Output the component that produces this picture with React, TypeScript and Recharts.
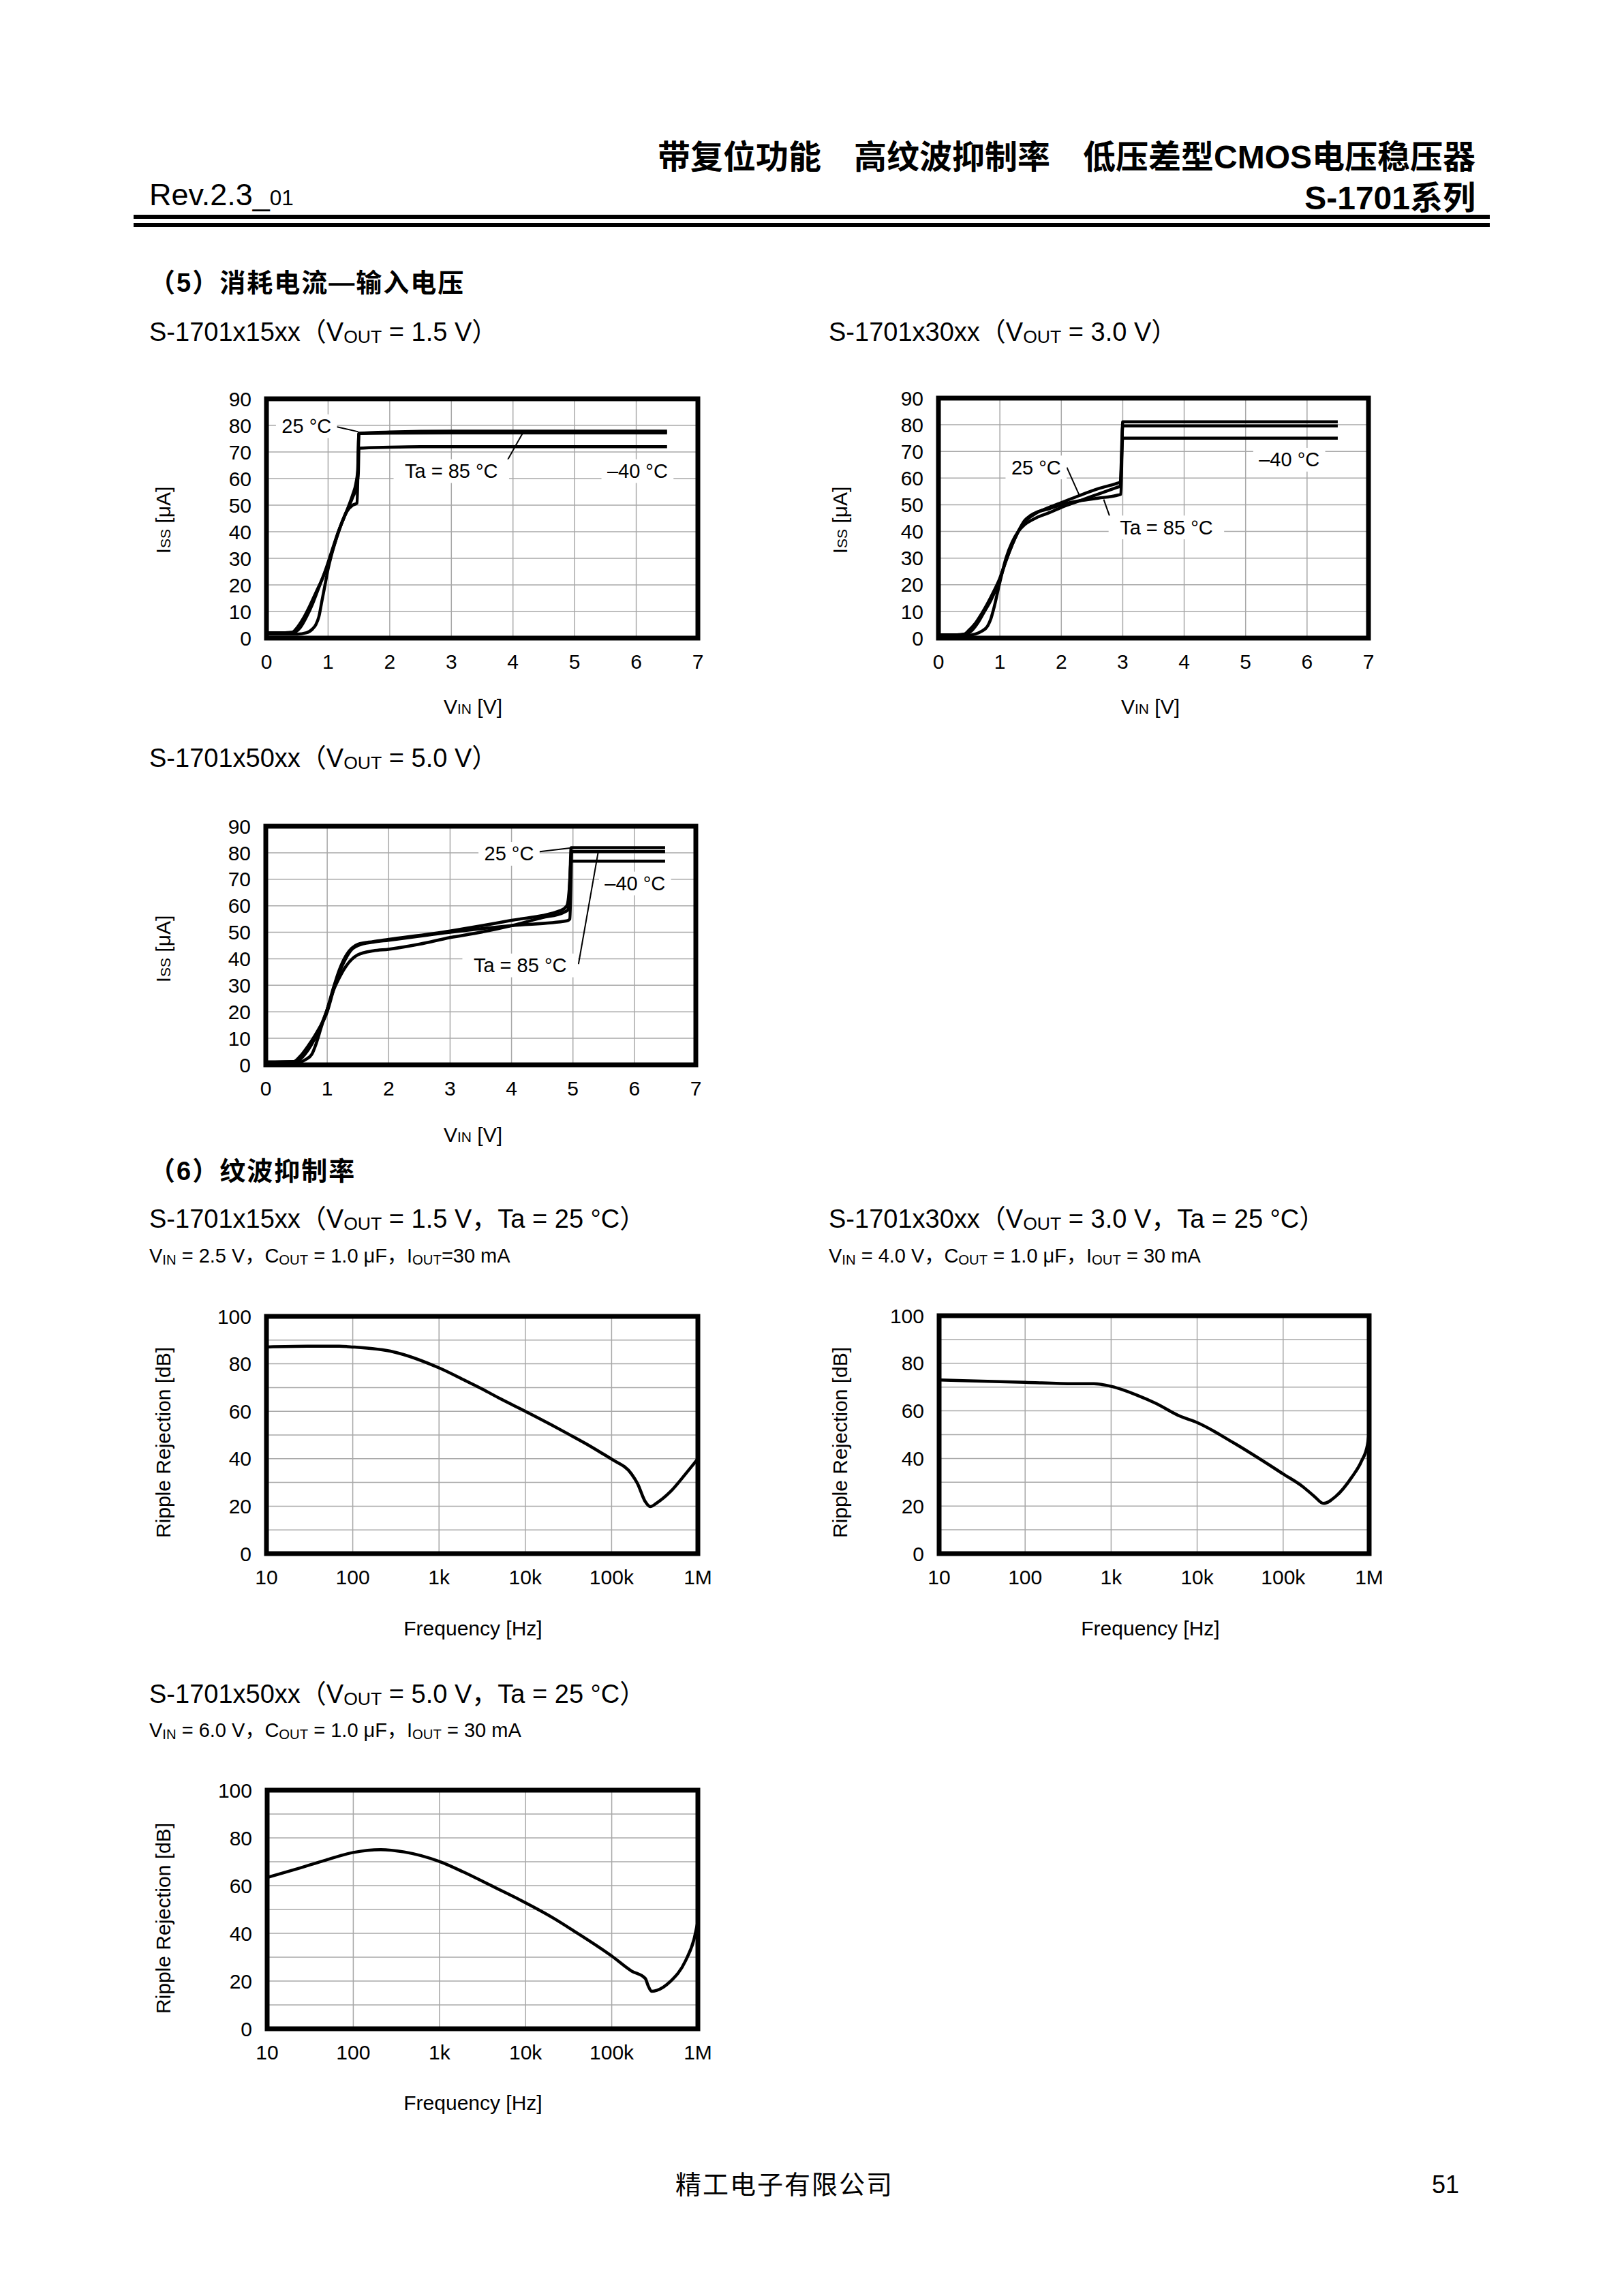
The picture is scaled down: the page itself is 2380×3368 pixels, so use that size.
import React from 'react';
import {
  LineChart,
  Line,
  XAxis,
  YAxis,
  CartesianGrid,
  ReferenceArea,
  ReferenceDot,
  ReferenceLine,
} from 'recharts';

// ---------------- DATA ----------------
const vinTicks = [0, 1, 2, 3, 4, 5, 6, 7];
const issTicks = [0, 10, 20, 30, 40, 50, 60, 70, 80, 90];
const freqTicks = [10, 100, 1000, 10000, 100000, 1000000];
const freqTickLabels = ['10', '100', '1k', '10k', '100k', '1M'];
const rrTicks = [0, 10, 20, 30, 40, 50, 60, 70, 80, 90, 100];

// S-1701x15xx  Iss vs Vin  (x: V, y: uA)
const iss15_25 = [
  { x: 0, y: 2 }, { x: 0.3, y: 2 }, { x: 0.45, y: 2.2 }, { x: 0.55, y: 4 }, { x: 0.65, y: 8 },
  { x: 0.75, y: 13 }, { x: 0.85, y: 19 }, { x: 0.95, y: 25 }, { x: 1.05, y: 32 }, { x: 1.15, y: 39 },
  { x: 1.25, y: 45 }, { x: 1.33, y: 49.5 }, { x: 1.4, y: 54 }, { x: 1.45, y: 58 }, { x: 1.48, y: 63 },
  { x: 1.5, y: 77 }, { x: 2, y: 77.5 }, { x: 3, y: 77.8 }, { x: 4, y: 77.8 }, { x: 5, y: 77.8 },
  { x: 6, y: 77.8 }, { x: 6.5, y: 77.8 },
];
const iss15_85 = [
  { x: 0, y: 2 }, { x: 0.3, y: 2 }, { x: 0.42, y: 2.2 }, { x: 0.5, y: 4 }, { x: 0.6, y: 7.5 },
  { x: 0.7, y: 12 }, { x: 0.8, y: 17 }, { x: 0.9, y: 22 }, { x: 1.0, y: 28 }, { x: 1.1, y: 35 },
  { x: 1.2, y: 42 }, { x: 1.3, y: 47.5 }, { x: 1.4, y: 50 }, { x: 1.47, y: 50.8 }, { x: 1.5, y: 77 },
  { x: 2, y: 77.1 }, { x: 3, y: 77.2 }, { x: 4, y: 77.2 }, { x: 5, y: 77.2 }, { x: 6, y: 77.2 },
  { x: 6.5, y: 77.2 },
];
const iss15_m40 = [
  { x: 0, y: 1.5 }, { x: 0.5, y: 1.5 }, { x: 0.65, y: 2 }, { x: 0.75, y: 3.5 }, { x: 0.8, y: 5 },
  { x: 0.85, y: 8 }, { x: 0.9, y: 14 }, { x: 0.95, y: 20 }, { x: 1.0, y: 26 }, { x: 1.1, y: 35 },
  { x: 1.2, y: 42 }, { x: 1.3, y: 47.5 }, { x: 1.4, y: 53 }, { x: 1.46, y: 57 }, { x: 1.49, y: 62 },
  { x: 1.5, y: 71.4 }, { x: 2, y: 71.8 }, { x: 2.5, y: 72 }, { x: 3, y: 72 }, { x: 4, y: 72 },
  { x: 5, y: 72 }, { x: 6, y: 72 }, { x: 6.5, y: 72 },
];

// S-1701x30xx  Iss vs Vin
const iss30_25 = [
  { x: 0, y: 1.2 }, { x: 0.3, y: 1.2 }, { x: 0.45, y: 1.5 }, { x: 0.55, y: 3 }, { x: 0.65, y: 6 },
  { x: 0.75, y: 10 }, { x: 0.85, y: 14 }, { x: 1.0, y: 22 }, { x: 1.1, y: 29 }, { x: 1.2, y: 35 },
  { x: 1.3, y: 40 }, { x: 1.4, y: 43.5 }, { x: 1.5, y: 45.5 }, { x: 1.6, y: 47 }, { x: 1.8, y: 49 },
  { x: 2.0, y: 50.8 }, { x: 2.3, y: 53.5 }, { x: 2.6, y: 56 }, { x: 2.9, y: 58 }, { x: 2.96, y: 58.5 },
  { x: 3.0, y: 79.6 }, { x: 3.5, y: 79.6 }, { x: 4, y: 79.6 }, { x: 5, y: 79.6 }, { x: 6, y: 79.6 },
  { x: 6.5, y: 79.6 },
];
const iss30_85 = [
  { x: 0, y: 1.2 }, { x: 0.3, y: 1.2 }, { x: 0.42, y: 1.5 }, { x: 0.5, y: 3 }, { x: 0.6, y: 5.5 },
  { x: 0.7, y: 9 }, { x: 0.8, y: 13 }, { x: 0.9, y: 17.5 }, { x: 1.0, y: 22.5 }, { x: 1.1, y: 29 },
  { x: 1.2, y: 35 }, { x: 1.3, y: 40 }, { x: 1.4, y: 44 }, { x: 1.5, y: 46 }, { x: 1.6, y: 47.2 },
  { x: 1.8, y: 48.5 }, { x: 2.0, y: 50 }, { x: 2.3, y: 51.5 }, { x: 2.6, y: 52.5 }, { x: 2.9, y: 53.5 },
  { x: 2.97, y: 54 }, { x: 3.0, y: 81.1 }, { x: 3.5, y: 81.1 }, { x: 4, y: 81.1 }, { x: 5, y: 81.1 },
  { x: 6, y: 81.1 }, { x: 6.5, y: 81.1 },
];
const iss30_m40 = [
  { x: 0, y: 1 }, { x: 0.45, y: 1 }, { x: 0.6, y: 1.5 }, { x: 0.7, y: 2.5 }, { x: 0.8, y: 4.5 },
  { x: 0.85, y: 7 }, { x: 0.9, y: 11 }, { x: 1.0, y: 21 }, { x: 1.1, y: 30 }, { x: 1.2, y: 36 },
  { x: 1.3, y: 40 }, { x: 1.4, y: 42.5 }, { x: 1.5, y: 44 }, { x: 1.6, y: 45.2 }, { x: 1.8, y: 47 },
  { x: 2.0, y: 49 }, { x: 2.3, y: 51.5 }, { x: 2.6, y: 54 }, { x: 2.9, y: 56.5 }, { x: 2.96, y: 57 },
  { x: 3.0, y: 75 }, { x: 3.5, y: 75 }, { x: 4, y: 75 }, { x: 5, y: 75 }, { x: 6, y: 75 },
  { x: 6.5, y: 75 },
];

// S-1701x50xx  Iss vs Vin
const iss50_25 = [
  { x: 0, y: 1 }, { x: 0.5, y: 1.2 }, { x: 0.6, y: 3 }, { x: 0.7, y: 6 }, { x: 0.8, y: 10 },
  { x: 0.9, y: 15 }, { x: 1.0, y: 21 }, { x: 1.1, y: 29 }, { x: 1.2, y: 36 }, { x: 1.3, y: 41 },
  { x: 1.4, y: 44 }, { x: 1.5, y: 45.5 }, { x: 1.75, y: 46.5 }, { x: 2, y: 47.3 }, { x: 3, y: 50.5 },
  { x: 4, y: 54.5 }, { x: 4.8, y: 58.2 }, { x: 4.9, y: 60 }, { x: 4.95, y: 70 }, { x: 4.97, y: 81.9 },
  { x: 5.5, y: 81.9 }, { x: 6, y: 81.9 }, { x: 6.5, y: 81.9 },
];
const iss50_85 = [
  { x: 0, y: 1 }, { x: 0.45, y: 1.2 }, { x: 0.55, y: 3 }, { x: 0.7, y: 7.5 }, { x: 0.85, y: 13 },
  { x: 1.0, y: 20 }, { x: 1.1, y: 28 }, { x: 1.2, y: 35 }, { x: 1.3, y: 40 }, { x: 1.4, y: 43.5 },
  { x: 1.5, y: 45 }, { x: 1.75, y: 46.3 }, { x: 2, y: 47 }, { x: 3, y: 50 }, { x: 4, y: 52.5 },
  { x: 4.9, y: 54.3 }, { x: 4.95, y: 55 }, { x: 4.98, y: 80.4 }, { x: 5.5, y: 80.4 }, { x: 6, y: 80.4 },
  { x: 6.5, y: 80.4 },
];
const iss50_m40 = [
  { x: 0, y: 1 }, { x: 0.55, y: 1 }, { x: 0.65, y: 2 }, { x: 0.75, y: 4 }, { x: 0.82, y: 8 },
  { x: 0.9, y: 14 }, { x: 1.0, y: 21 }, { x: 1.1, y: 28 }, { x: 1.2, y: 33 }, { x: 1.3, y: 37 },
  { x: 1.4, y: 39.8 }, { x: 1.5, y: 41.5 }, { x: 1.75, y: 43 }, { x: 2, y: 43.6 }, { x: 2.5, y: 45.5 },
  { x: 3, y: 48 }, { x: 3.5, y: 50 }, { x: 4, y: 52.5 }, { x: 4.5, y: 55.5 }, { x: 4.85, y: 57.5 },
  { x: 4.92, y: 58.5 }, { x: 4.97, y: 76.8 }, { x: 5.5, y: 76.8 }, { x: 6, y: 76.8 }, { x: 6.5, y: 76.8 },
];

// Ripple rejection (x: Hz, y: dB)
const rr15 = [
  { x: 10, y: 87.1 }, { x: 30, y: 87.4 }, { x: 70, y: 87.4 }, { x: 100, y: 87.1 }, { x: 300, y: 85 },
  { x: 1000, y: 78.3 }, { x: 2000, y: 73 }, { x: 3160, y: 69.4 }, { x: 5000, y: 65.5 },
  { x: 10000, y: 60 }, { x: 20000, y: 54.3 }, { x: 31600, y: 50.4 }, { x: 50000, y: 46.4 },
  { x: 75000, y: 42.6 }, { x: 100000, y: 39.8 }, { x: 170000, y: 33.6 }, { x: 200000, y: 29.5 },
  { x: 245000, y: 22 }, { x: 280000, y: 19.8 }, { x: 335000, y: 21.4 }, { x: 480000, y: 26.1 },
  { x: 720000, y: 33.6 }, { x: 1000000, y: 40 },
];
const rr30 = [
  { x: 10, y: 73 }, { x: 100, y: 72 }, { x: 370, y: 71.4 }, { x: 630, y: 71.4 }, { x: 1000, y: 70.3 },
  { x: 2000, y: 66.6 }, { x: 3300, y: 63.2 }, { x: 6300, y: 57.8 }, { x: 10000, y: 55.1 },
  { x: 27000, y: 46.4 }, { x: 100000, y: 33.5 }, { x: 170000, y: 28.1 }, { x: 230000, y: 24.1 },
  { x: 294000, y: 21.1 }, { x: 410000, y: 24.1 }, { x: 630000, y: 32.2 }, { x: 815000, y: 38.9 },
  { x: 955000, y: 45.7 }, { x: 1000000, y: 51 },
];
const rr50 = [
  { x: 10, y: 63.4 }, { x: 23, y: 67.2 }, { x: 48, y: 70.7 }, { x: 100, y: 73.9 }, { x: 208, y: 75.1 },
  { x: 390, y: 74.1 }, { x: 1000, y: 70.1 }, { x: 1900, y: 65.7 }, { x: 4300, y: 59.4 },
  { x: 10000, y: 52.8 }, { x: 21000, y: 46.4 }, { x: 35000, y: 41.4 }, { x: 100000, y: 30.5 },
  { x: 170000, y: 24.2 }, { x: 245000, y: 21.1 }, { x: 265000, y: 18 }, { x: 290000, y: 15.7 },
  { x: 334000, y: 16.1 }, { x: 478000, y: 19.8 }, { x: 722000, y: 28.6 }, { x: 900000, y: 37.4 },
  { x: 1000000, y: 45 },
];

// Annotations (data coordinates)
const notes15 = [
  { x: 0.65, y: 79.7, text: '25 °C' },
  { x: 3.0, y: 62.8, text: 'Ta = 85 °C' },
  { x: 6.02, y: 62.8, text: '–40 °C' },
];
const leaders15 = [
  [{ x: 1.1, y: 79.7 }, { x: 1.49, y: 77.6 }],
  [{ x: 3.83, y: 63.6 }, { x: 4.16, y: 77.2 }],
];
const notes30 = [
  { x: 1.59, y: 64, text: '25 °C' },
  { x: 3.71, y: 41.5, text: 'Ta = 85 °C' },
  { x: 5.71, y: 66.9, text: '–40 °C' },
];
const leaders30 = [
  [{ x: 2.09, y: 64 }, { x: 2.3, y: 53.2 }],
  [{ x: 2.83, y: 42.9 }, { x: 2.69, y: 52 }],
];
const notes50 = [
  { x: 3.96, y: 79.6, text: '25 °C' },
  { x: 6.01, y: 68.4, text: '–40 °C' },
  { x: 4.14, y: 37.5, text: 'Ta = 85 °C' },
];
const leaders50 = [
  [{ x: 4.39, y: 80.2 }, { x: 5.0, y: 81.9 }],
  [{ x: 5.09, y: 38 }, { x: 5.41, y: 80.2 }],
];

// ---------------- STYLE ----------------
const FONT = "'Liberation Sans', Arial, 'Noto Sans CJK SC', sans-serif";
const tickStyle = { fill: '#000', fontSize: 30, fontFamily: FONT };
const GRID = '#a8a8a8';
const YW = 100;
const XH = 70;
const MT = 30;
const MR = 50;

type Plot = { l: number; r: number; t: number; b: number };

const makeLabel = (text: string) => (props: any) => {
  const vb = props.viewBox || {};
  const cx = (vb.x || 0) + (vb.width || 0) / 2;
  const cy = (vb.y || 0) + (vb.height || 0) / 2;
  const fs = 29;
  const w = text.length * fs * 0.55 + 10;
  return (
    <g>
      <rect x={cx - w / 2} y={cy - fs * 0.6} width={w} height={fs * 1.2} fill="#fff" />
      <text
        x={cx}
        y={cy}
        textAnchor="middle"
        dominantBaseline="central"
        fontSize={fs}
        fontFamily={FONT}
        fill="#000"
      >
        {text}
      </text>
    </g>
  );
};

function IssChart({
  plot,
  series,
  notes,
  leaders,
}: {
  plot: Plot;
  series: { x: number; y: number }[][];
  notes: { x: number; y: number; text: string }[];
  leaders: { x: number; y: number }[][];
}) {
  const w = plot.r - plot.l + YW + MR;
  const h = plot.b - plot.t + MT + XH;
  return (
    <div style={{ position: 'absolute', left: plot.l - YW, top: plot.t - MT }}>
      <LineChart width={w} height={h} margin={{ top: MT, right: MR, bottom: 0, left: 0 }}>
        <CartesianGrid stroke={GRID} strokeWidth={1.5} />
        <XAxis
          dataKey="x"
          type="number"
          domain={[0, 7]}
          ticks={vinTicks}
          interval={0}
          height={XH}
          tickLine={false}
          axisLine={false}
          tickSize={8}
          tickMargin={16}
          tick={tickStyle}
          allowDataOverflow
        />
        <YAxis
          type="number"
          domain={[0, 90]}
          ticks={issTicks}
          interval={0}
          width={YW}
          tickLine={false}
          axisLine={false}
          tickSize={8}
          tickMargin={14}
          tick={tickStyle}
          allowDataOverflow
        />
        {notes.map((n, i) => (
          <ReferenceDot
            key={'n' + i}
            x={n.x}
            y={n.y}
            r={0}
            fill="none"
            stroke="none"
            label={makeLabel(n.text)}
          />
        ))}
        {leaders.map((seg, i) => (
          <ReferenceLine key={'l' + i} segment={seg as any} stroke="#000" strokeWidth={2} />
        ))}
        {series.map((s, i) => (
          <Line
            key={'s' + i}
            data={s}
            dataKey="y"
            type="monotone"
            stroke="#000"
            strokeWidth={4.5}
            dot={false}
            activeDot={false}
            isAnimationActive={false}
          />
        ))}
        <ReferenceArea x1={0} x2={7} y1={0} y2={90} fill="none" stroke="#000" strokeWidth={7} />
      </LineChart>
    </div>
  );
}

function RippleChart({ plot, data }: { plot: Plot; data: { x: number; y: number }[] }) {
  const w = plot.r - plot.l + YW + MR;
  const h = plot.b - plot.t + MT + XH;
  return (
    <div style={{ position: 'absolute', left: plot.l - YW, top: plot.t - MT }}>
      <LineChart width={w} height={h} margin={{ top: MT, right: MR, bottom: 0, left: 0 }}>
        <CartesianGrid stroke={GRID} strokeWidth={1.5} />
        <XAxis
          dataKey="x"
          type="number"
          scale="log"
          domain={[10, 1000000]}
          ticks={freqTicks}
          interval={0}
          height={XH}
          tickLine={false}
          axisLine={false}
          tickSize={8}
          tickMargin={16}
          tick={tickStyle}
          tickFormatter={(v: number) => freqTickLabels[freqTicks.indexOf(v)] ?? String(v)}
          allowDataOverflow
        />
        <YAxis
          type="number"
          domain={[0, 100]}
          ticks={rrTicks}
          interval={0}
          width={YW}
          tickLine={false}
          axisLine={false}
          tickSize={8}
          tickMargin={14}
          tick={tickStyle}
          tickFormatter={(v: number) => (v % 20 === 0 ? String(v) : '')}
          allowDataOverflow
        />
        <Line
          data={data}
          dataKey="y"
          type="monotone"
          stroke="#000"
          strokeWidth={4.5}
          dot={false}
          activeDot={false}
          isAnimationActive={false}
        />
        <ReferenceArea x1={10} x2={1000000} y1={0} y2={100} fill="none" stroke="#000" strokeWidth={7} />
      </LineChart>
    </div>
  );
}

// ---------------- TEXT HELPERS ----------------
function T({
  x,
  y,
  size,
  bold,
  right,
  center,
  rotate,
  spacing,
  children,
}: {
  x: number;
  y: number;
  size: number;
  bold?: boolean;
  right?: boolean;
  center?: boolean;
  rotate?: boolean;
  spacing?: number;
  children: React.ReactNode;
}) {
  const style: React.CSSProperties = {
    position: 'absolute',
    top: y,
    fontSize: size,
    lineHeight: 1,
    fontFamily: FONT,
    fontWeight: bold ? 700 : 400,
    whiteSpace: 'nowrap',
    color: '#000',
    letterSpacing: spacing ?? 0,
  };
  if (rotate) {
    style.left = x;
    style.transform = 'translate(-50%, -50%) rotate(-90deg)';
  } else if (center) {
    style.left = x;
    style.transform = 'translate(-50%, -50%)';
  } else if (right) {
    style.right = 2380 - x;
    style.transform = 'translateY(-50%)';
  } else {
    style.left = x;
    style.transform = 'translateY(-50%)';
  }
  return <div style={style}>{children}</div>;
}

const Sub = ({ children }: { children: React.ReactNode }) => (
  <span style={{ fontSize: '0.7em', verticalAlign: '-0.12em' }}>{children}</span>
);
const Small = ({ children }: { children: React.ReactNode }) => (
  <span style={{ fontSize: '0.7em' }}>{children}</span>
);

const P1: Plot = { l: 391, r: 1024, t: 585, b: 936 };
const P2: Plot = { l: 1377, r: 2008, t: 584, b: 936 };
const P3: Plot = { l: 390, r: 1021, t: 1212, b: 1562 };
const P4: Plot = { l: 391, r: 1024, t: 1931, b: 2279 };
const P5: Plot = { l: 1378, r: 2009, t: 1930, b: 2279 };
const P6: Plot = { l: 392, r: 1024, t: 2626, b: 2976 };

export default function App() {
  return (
    <div
      style={{
        position: 'absolute',
        left: 0,
        top: 0,
        width: 2380,
        height: 3368,
        background: '#fff',
        overflow: 'hidden',
      }}
    >
      {/* Header */}
      <T x={2165} y={231} size={48} bold right>
        带复位功能　高纹波抑制率　低压差型CMOS电压稳压器
      </T>
      <T x={219} y={285} size={45}>
        Rev.2.3_<Small>01</Small>
      </T>
      <T x={2165} y={291} size={48} bold right>
        S-1701系列
      </T>
      <div style={{ position: 'absolute', left: 196, top: 315, width: 1990, height: 6, background: '#000' }} />
      <div style={{ position: 'absolute', left: 196, top: 327, width: 1990, height: 6, background: '#000' }} />

      {/* Section 5 */}
      <T x={219} y={415} size={38} bold spacing={2}>
        （5）消耗电流—输入电压
      </T>
      <T x={219} y={488} size={38}>
        S-1701x15xx（V<Sub>OUT</Sub> = 1.5 V）
      </T>
      <T x={1216} y={488} size={38}>
        S-1701x30xx（V<Sub>OUT</Sub> = 3.0 V）
      </T>
      <T x={219} y={1113} size={38}>
        S-1701x50xx（V<Sub>OUT</Sub> = 5.0 V）
      </T>

      <IssChart plot={P1} series={[iss15_m40, iss15_85, iss15_25]} notes={notes15} leaders={leaders15} />
      <IssChart plot={P2} series={[iss30_m40, iss30_85, iss30_25]} notes={notes30} leaders={leaders30} />
      <IssChart plot={P3} series={[iss50_m40, iss50_85, iss50_25]} notes={notes50} leaders={leaders50} />

      <T x={240} y={763} size={30} rotate>
        I<Small>SS</Small> [μA]
      </T>
      <T x={1233} y={763} size={30} rotate>
        I<Small>SS</Small> [μA]
      </T>
      <T x={240} y={1392} size={30} rotate>
        I<Small>SS</Small> [μA]
      </T>
      <T x={694} y={1037} size={30} center>
        V<Small>IN</Small> [V]
      </T>
      <T x={1688} y={1037} size={30} center>
        V<Small>IN</Small> [V]
      </T>
      <T x={694} y={1665} size={30} center>
        V<Small>IN</Small> [V]
      </T>

      {/* Section 6 */}
      <T x={219} y={1718} size={38} bold spacing={2}>
        （6）纹波抑制率
      </T>
      <T x={219} y={1789} size={38}>
        S-1701x15xx（V<Sub>OUT</Sub> = 1.5 V，Ta = 25 °C）
      </T>
      <T x={219} y={1843} size={29}>
        V<Sub>IN</Sub> = 2.5 V，C<Sub>OUT</Sub> = 1.0 μF，I<Sub>OUT</Sub>=30 mA
      </T>
      <T x={1216} y={1789} size={38}>
        S-1701x30xx（V<Sub>OUT</Sub> = 3.0 V，Ta = 25 °C）
      </T>
      <T x={1216} y={1843} size={29}>
        V<Sub>IN</Sub> = 4.0 V，C<Sub>OUT</Sub> = 1.0 μF，I<Sub>OUT</Sub> = 30 mA
      </T>
      <T x={219} y={2486} size={38}>
        S-1701x50xx（V<Sub>OUT</Sub> = 5.0 V，Ta = 25 °C）
      </T>
      <T x={219} y={2539} size={29}>
        V<Sub>IN</Sub> = 6.0 V，C<Sub>OUT</Sub> = 1.0 μF，I<Sub>OUT</Sub> = 30 mA
      </T>

      <RippleChart plot={P4} data={rr15} />
      <RippleChart plot={P5} data={rr30} />
      <RippleChart plot={P6} data={rr50} />

      <T x={240} y={2116} size={30} rotate>
        Ripple Rejection [dB]
      </T>
      <T x={1233} y={2116} size={30} rotate>
        Ripple Rejection [dB]
      </T>
      <T x={240} y={2814} size={30} rotate>
        Ripple Rejection [dB]
      </T>
      <T x={694} y={2389} size={30} center>
        Frequency [Hz]
      </T>
      <T x={1688} y={2389} size={30} center>
        Frequency [Hz]
      </T>
      <T x={694} y={3085} size={30} center>
        Frequency [Hz]
      </T>

      {/* Footer */}
      <T x={1151} y={3205} size={38} center spacing={2}>
        精工电子有限公司
      </T>
      <T x={2121} y={3205} size={36} center>
        51
      </T>
    </div>
  );
}
